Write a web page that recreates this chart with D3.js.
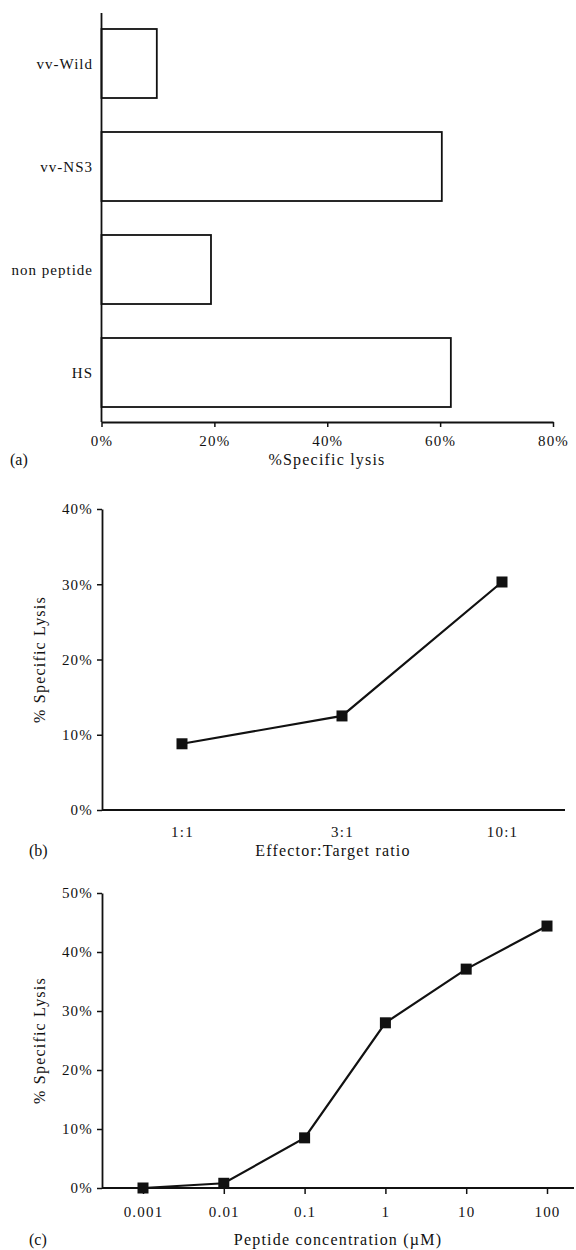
<!DOCTYPE html>
<html>
<head>
<meta charset="utf-8">
<script src="https://cdn.jsdelivr.net/npm/d3@7"></script>
<style>
  html, body { margin: 0; padding: 0; background: #fff; }
  svg { display: block; }
  text { font-family: "Liberation Serif", "DejaVu Serif", serif; fill: #111; }
</style>
</head>
<body>
<svg id="chart" width="576" height="1250"></svg>
<script>
// ---------- Data ----------
const categoriesA = ["vv-Wild", "vv-NS3", "non peptide", "HS"];
const lysisA = [9.8, 60.3, 19.4, 61.9];
const ticksA = [0, 20, 40, 60, 80];

const ratiosB = ["1:1", "3:1", "10:1"];
const lysisB = [8.8, 12.5, 30.3];
const ticksB = [0, 10, 20, 30, 40];

const concentrationsC = [0.001, 0.01, 0.1, 1, 10, 100];
const concLabelsC = ["0.001", "0.01", "0.1", "1", "10", "100"];
const lysisC = [0, 0.8, 8.5, 28, 37.1, 44.4];
const ticksC = [0, 10, 20, 30, 40, 50];

// ---------- Setup ----------
const svg = d3.select("#chart");
const pct = d => d + "%";
const tickFont = 15, titleFont = 16;

function styleAxis(g) {
  g.attr("color", "#111");
  g.selectAll("path.domain").attr("stroke-width", 1.8);
  g.selectAll(".tick line").attr("stroke-width", 1.5);
  g.selectAll(".tick text")
    .style("font-family", "'Liberation Serif', serif")
    .style("font-size", tickFont + "px")
    .style("letter-spacing", "1.2px")
    .attr("fill", "#111");
}

// ---------- Panel (a) ----------
{
  const x = d3.scaleLinear().domain([0, 80]).range([101.5, 553]);
  const y = d3.scaleBand().domain(categoriesA).range([12, 424])
    .paddingInner(0.33).paddingOuter(0.165);
  const g = svg.append("g");

  g.selectAll("rect.bar").data(categoriesA).join("rect")
    .attr("class", "bar")
    .attr("x", x(0))
    .attr("y", d => y(d))
    .attr("width", (d, i) => x(lysisA[i]) - x(0))
    .attr("height", y.bandwidth())
    .attr("fill", "#fff")
    .attr("stroke", "#111")
    .attr("stroke-width", 1.8);

  // y axis line
  g.append("line").attr("x1", x(0)).attr("x2", x(0)).attr("y1", 13).attr("y2", 422)
    .attr("stroke", "#111").attr("stroke-width", 1.8);

  g.selectAll("text.cat").data(categoriesA).join("text")
    .attr("class", "cat")
    .attr("x", 93)
    .attr("y", d => y(d) + y.bandwidth() / 2 + 5)
    .attr("text-anchor", "end")
    .style("font-size", "15px")
    .style("letter-spacing", "1px")
    .text(d => d);

  const ax = g.append("g").attr("transform", "translate(0,422)")
    .call(d3.axisBottom(x).tickValues(ticksA).tickFormat(pct).tickSize(5).tickSizeOuter(0).tickPadding(8));
  styleAxis(ax);

  g.append("text").attr("x", 10).attr("y", 465).style("font-size", titleFont + "px").text("(a)");
  g.append("text").attr("x", 327).attr("y", 465).attr("text-anchor", "middle")
    .style("font-size", titleFont + "px").style("letter-spacing", "1.2px").text("%Specific lysis");
}

// ---------- Panel (b) ----------
{
  const x = d3.scalePoint().domain(ratiosB).range([182, 502]);
  const y = d3.scaleLinear().domain([0, 40]).range([810, 509]);
  const g = svg.append("g");

  const ay = g.append("g").attr("transform", "translate(102,0)")
    .call(d3.axisLeft(y).tickValues(ticksB).tickFormat(pct).tickSize(5).tickSizeOuter(0).tickPadding(4));
  styleAxis(ay);

  g.append("line").attr("x1", 102).attr("x2", 565).attr("y1", y(0)).attr("y2", y(0))
    .attr("stroke", "#111").attr("stroke-width", 2);

  const ax = g.append("g").attr("transform", `translate(0,${y(0)})`)
    .call(d3.axisBottom(x).tickSize(0).tickPadding(16));
  ax.select("path.domain").remove();
  styleAxis(ax);

  const line = d3.line().x((d, i) => x(ratiosB[i])).y(d => y(d));
  g.append("path").datum(lysisB).attr("d", line)
    .attr("fill", "none").attr("stroke", "#111").attr("stroke-width", 2.2);

  g.selectAll("rect.pt").data(lysisB).join("rect")
    .attr("class", "pt")
    .attr("x", (d, i) => x(ratiosB[i]) - 5.5)
    .attr("y", d => y(d) - 5.5)
    .attr("width", 11).attr("height", 11)
    .attr("fill", "#111");

  g.append("text").attr("transform", `translate(45,${(y(0) + y(40)) / 2}) rotate(-90)`)
    .attr("text-anchor", "middle").style("font-size", titleFont + "px")
    .style("letter-spacing", "1.2px").text("% Specific Lysis");
  g.append("text").attr("x", 29).attr("y", 856).style("font-size", titleFont + "px").text("(b)");
  g.append("text").attr("x", 333).attr("y", 856).attr("text-anchor", "middle")
    .style("font-size", titleFont + "px").style("letter-spacing", "1.2px").text("Effector:Target ratio");
}

// ---------- Panel (c) ----------
{
  const x = d3.scaleLog().domain([0.001, 100]).range([143, 547]);
  const y = d3.scaleLinear().domain([0, 50]).range([1188, 893]);
  const g = svg.append("g");

  const ay = g.append("g").attr("transform", "translate(102,0)")
    .call(d3.axisLeft(y).tickValues(ticksC).tickFormat(pct).tickSize(5).tickSizeOuter(0).tickPadding(4));
  styleAxis(ay);

  g.append("line").attr("x1", 102).attr("x2", 574).attr("y1", y(0)).attr("y2", y(0))
    .attr("stroke", "#111").attr("stroke-width", 2);

  const ax = g.append("g").attr("transform", `translate(0,${y(0)})`)
    .call(d3.axisBottom(x).tickValues(concentrationsC)
      .tickFormat((d, i) => concLabelsC[i]).tickSize(6).tickPadding(12));
  ax.select("path.domain").remove();
  styleAxis(ax);

  const line = d3.line().x((d, i) => x(concentrationsC[i])).y(d => y(d));
  g.append("path").datum(lysisC).attr("d", line)
    .attr("fill", "none").attr("stroke", "#111").attr("stroke-width", 2.2);

  g.selectAll("rect.pt").data(lysisC).join("rect")
    .attr("class", "pt")
    .attr("x", (d, i) => x(concentrationsC[i]) - 5.5)
    .attr("y", d => y(d) - 5.5)
    .attr("width", 11).attr("height", 11)
    .attr("fill", "#111");

  g.append("text").attr("transform", `translate(45,${(y(0) + y(50)) / 2}) rotate(-90)`)
    .attr("text-anchor", "middle").style("font-size", titleFont + "px")
    .style("letter-spacing", "1.2px").text("% Specific Lysis");
  g.append("text").attr("x", 29).attr("y", 1245).style("font-size", titleFont + "px").text("(c)");
  g.append("text").attr("x", 338).attr("y", 1245).attr("text-anchor", "middle")
    .style("font-size", titleFont + "px").style("letter-spacing", "1.2px").text("Peptide concentration (µM)");
}
</script>
</body>
</html>
